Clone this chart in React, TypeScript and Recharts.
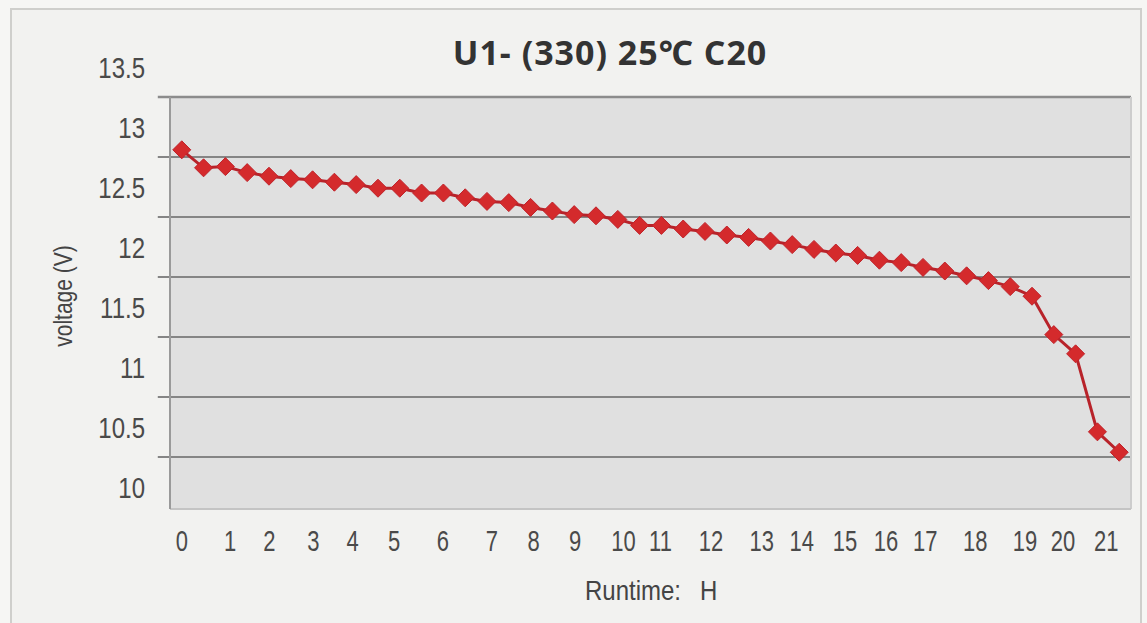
import { LineChart, Line, XAxis, YAxis, ReferenceLine, ReferenceArea } from 'recharts'

// runtime in hours, one reading every half hour
const runtimeH = [
  0, 0.5, 1, 1.5, 2, 2.5, 3, 3.5, 4, 4.5, 5, 5.5, 6, 6.5, 7, 7.5, 8, 8.5, 9, 9.5, 10, 10.5,
  11, 11.5, 12, 12.5, 13, 13.5, 14, 14.5, 15, 15.5, 16, 16.5, 17, 17.5, 18, 18.5, 19, 19.5,
  20, 20.5, 21, 21.5,
]
const voltage = [
  12.81, 12.66, 12.67, 12.62, 12.59, 12.57, 12.56, 12.54, 12.52, 12.49, 12.49, 12.45, 12.45,
  12.41, 12.38, 12.37, 12.33, 12.3, 12.27, 12.26, 12.23, 12.18, 12.18, 12.15, 12.13, 12.1,
  12.08, 12.05, 12.02, 11.98, 11.95, 11.93, 11.89, 11.87, 11.83, 11.8, 11.76, 11.72, 11.67,
  11.59, 11.27, 11.11, 10.46, 10.29,
]

// the x labels in the original are not evenly spaced
const xTickPos = [
  0, 1.11, 2.01, 3.02, 3.92, 4.87, 5.99, 7.11, 8.07, 9.02, 10.13, 10.98, 12.14, 13.3, 14.22,
  15.21, 16.15, 17.05, 18.2, 19.34, 20.21, 21.2,
]
const xTickLabels = [
  '0', '1', '2', '3', '4', '5', '6', '7', '8', '9', '10', '11', '12', '13', '14', '15', '16',
  '17', '18', '19', '20', '21',
]
const yTicks = [13.5, 13, 12.5, 12, 11.5, 11, 10.5, 10]
// grid lines sit between the y labels
const gridVoltages = [12.75, 12.25, 11.75, 11.25, 10.75, 10.25]

const xDomain = [-0.27, 21.77]
const yDomain = [9.817, 13.25]

const data = runtimeH.map((h, i) => ({ h, v: voltage[i] }))

const W = 1147
const H = 623
const tickFont = '"Liberation Sans", Arial, sans-serif'

function XTick(props: any) {
  const { x, y, payload } = props
  const idx = xTickPos.indexOf(payload.value)
  return (
    <g transform={`translate(${x},${y + 32}) scale(1,1.32)`}>
      <text textAnchor="middle" dy="0.36em" fontSize={22} fill="#4a4a4a" fontFamily={tickFont}>
        {xTickLabels[idx]}
      </text>
    </g>
  )
}

function YTick(props: any) {
  const { x, y, payload } = props
  return (
    <g transform={`translate(${x},${y}) scale(1,1.25)`}>
      <text textAnchor="end" dy="0.36em" fontSize={24} fill="#4a4a4a" fontFamily={tickFont}>
        {payload.value}
      </text>
    </g>
  )
}

function Diamond(props: any) {
  const { cx, cy, index } = props
  if (cx == null || cy == null) return null
  const r = 9
  return (
    <path
      key={index}
      d={`M${cx},${cy - r}L${cx + r},${cy}L${cx},${cy + r}L${cx - r},${cy}Z`}
      fill="#d42a2c"
      stroke="#c0222a"
      strokeWidth={1}
    />
  )
}

export default function App() {
  return (
    <div style={{ position: 'fixed', left: 0, top: 0, width: W, height: H, background: '#f6f6f4', overflow: 'hidden' }}>
      <div
        style={{
          position: 'absolute',
          left: 10,
          top: 8,
          width: 1128,
          height: 640,
          border: '2px solid #cfcfcc',
          background: '#f2f2f0',
        }}
      />
      <div style={{ position: 'absolute', left: 0, top: 0 }}>
        <LineChart width={W} height={H} data={data} margin={{ top: 97, right: 16, left: 110, bottom: 74 }}>
          <ReferenceArea
            x1={xDomain[0]}
            x2={xDomain[1]}
            y1={yDomain[0]}
            y2={yDomain[1]}
            fill="#e0e0e0"
            fillOpacity={1}
            stroke="none"
          />
          <XAxis
            type="number"
            dataKey="h"
            domain={xDomain}
            allowDataOverflow
            ticks={xTickPos}
            interval={0}
            tick={<XTick />}
            tickLine={false}
            tickSize={0}
            tickMargin={0}
            axisLine={{ stroke: '#c4c4c4', strokeWidth: 2 }}
            height={40}
          />
          <YAxis
            type="number"
            domain={yDomain}
            allowDataOverflow
            ticks={yTicks}
            interval={0}
            tick={<YTick />}
            tickLine={false}
            tickSize={0}
            tickMargin={25}
            axisLine={{ stroke: '#9a9a9a', strokeWidth: 2 }}
            width={60}
          />
          <ReferenceLine
            segment={[{ x: -0.55, y: yDomain[1] }, { x: xDomain[1], y: yDomain[1] }]}
            stroke="#8c8c8c"
            strokeWidth={2.5}
            ifOverflow="visible"
          />
          {gridVoltages.map((g) => (
            <ReferenceLine
              key={g}
              segment={[{ x: -0.55, y: g }, { x: xDomain[1], y: g }]}
              stroke="#858585"
              strokeWidth={2}
              ifOverflow="visible"
            />
          ))}
          <ReferenceLine x={xDomain[1]} stroke="#cdcdcd" strokeWidth={2} ifOverflow="visible" />
          <Line
            type="linear"
            dataKey="v"
            stroke="#b8232a"
            strokeWidth={3}
            dot={<Diamond />}
            activeDot={false}
            isAnimationActive={false}
          />
        </LineChart>
      </div>
      <svg width={W} height={H} style={{ position: 'absolute', left: 0, top: 0, pointerEvents: 'none' }}>
        <text
          x={610}
          y={65}
          textAnchor="middle"
          fontSize={34}
          fontWeight={700}
          letterSpacing={1}
          fill="#333333"
          fontFamily='"Open Sans", "Noto Sans", sans-serif'
        >
          U1- (330) 25℃ C20
        </text>
        <g transform="translate(63,296) rotate(-90) scale(1.05,1.3)">
          <text textAnchor="middle" dy="0.33em" fontSize={20} fill="#444" fontFamily={tickFont}>
            voltage (V)
          </text>
        </g>
        <g transform="translate(585,590) scale(1,1.17)">
          <text x={0} dy="0.36em" fontSize={24} fill="#444" fontFamily={tickFont}>
            Runtime:
            <tspan x={115}>H</tspan>
          </text>
        </g>
      </svg>
    </div>
  )
}
